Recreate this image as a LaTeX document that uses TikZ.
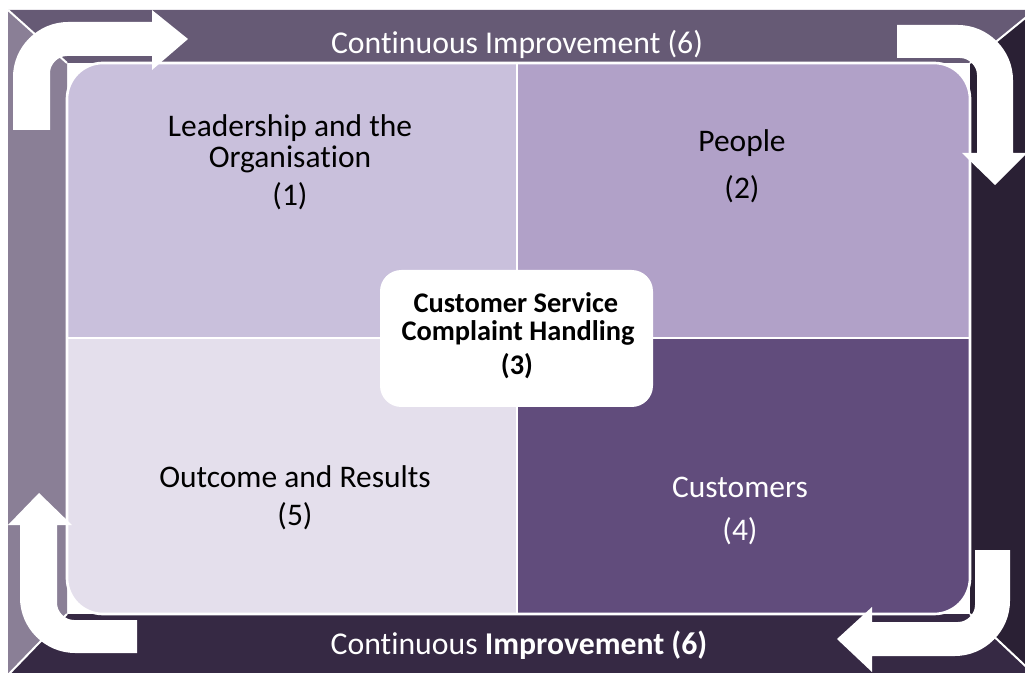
\documentclass[tikz,border=0pt]{standalone}
\usepackage{fontspec}
\setmainfont{Carlito}[Ligatures=NoCommon]
\usepackage{xcolor}
\definecolor{bandtop}{HTML}{665A75}
\definecolor{bandleft}{HTML}{8A7F96}
\definecolor{bandright}{HTML}{2A2034}
\definecolor{bandbottom}{HTML}{362944}
\definecolor{quadlead}{HTML}{C9C0DC}
\definecolor{quadpeople}{HTML}{B1A1C8}
\definecolor{quadresult}{HTML}{E4DFEC}
\definecolor{quadcust}{HTML}{614C7C}

\begin{document}
\begin{tikzpicture}[x=0.75pt,y=-0.75pt,line join=round,
    label/.style={anchor=base,font=\fontsize{23.6}{28}\selectfont},
    hubtext/.style={anchor=base,font=\fontsize{21.3}{25}\selectfont\bfseries},
    bandtext/.style={anchor=base,text=white,font=\fontsize{23.8}{28}\selectfont}]
  \useasboundingbox (0,0) rectangle (1025,673);
  \clip (0,0) rectangle (1025,673);
  % outer frame and inner panel corners
  \coordinate (P1) at (8,10);
  \coordinate (P2) at (1035,10);
  \coordinate (P3) at (1035,675);
  \coordinate (P4) at (8,675);
  \coordinate (Q1) at (67,63);
  \coordinate (Q2) at (970,63);
  \coordinate (Q3) at (970,614);
  \coordinate (Q4) at (67,614);
  \coordinate (M) at (517,338);
  \fill[bandtop] (P1)--(P2)--(Q2)--(Q1)--cycle;
  \fill[bandright] (P2)--(P3)--(Q3)--(Q2)--cycle;
  \fill[bandbottom] (P3)--(P4)--(Q4)--(Q3)--cycle;
  \fill[bandleft] (P4)--(P1)--(Q1)--(Q4)--cycle;
  \draw[white,line width=1.5pt] (P1)--(Q1) (P2)--(Q2) (P3)--(Q3) (P4)--(Q4);
  % four quadrants
  \begin{scope}
    \clip[rounded corners=27pt] (Q1) rectangle (Q3);
    \fill[quadlead] (Q1) rectangle (M);
    \fill[quadpeople] (Q2) rectangle (M);
    \fill[quadcust] (Q3) rectangle (M);
    \fill[quadresult] (Q4) rectangle (M);
  \end{scope}
  \draw[white,line width=2pt] (517,63)--(517,614) (67,338)--(970,338);
  \draw[white,line width=2pt,rounded corners=27pt] (Q1) rectangle (Q3);
  % bent arrows, clockwise
  \fill[white] (13,130)--(13,77) .. controls (13,47) and (38,22) .. (68,22)
    --(152,22)--(152,10)--(188,39)--(152,70)--(152,56)--(67,56)
    .. controls (58,56) and (50,64) .. (50,73)--(50,130)--cycle;
  \fill[white] (897,25)--(958,25) .. controls (988,25) and (1013,50) .. (1013,80)
    --(1013,153)--(1027,153)--(995,185)--(962,153)--(977,153)--(977,75)
    .. controls (977,66) and (969,58) .. (960,58)--(897,58)--cycle;
  \fill[white] (975,550)--(1010,550)--(1010,601) .. controls (1010,631) and (985,656) .. (955,656)
    --(872,656)--(872,672)--(837,639)--(872,607)--(872,622)--(958,622)
    .. controls (967,622) and (975,614) .. (975,605)--cycle;
  \fill[white] (137,620)--(137,653)--(75,653) .. controls (45,653) and (20,628) .. (20,598)
    --(20,525)--(8,525)--(39,493)--(72,525)--(57,525)--(57,603)
    .. controls (57,612) and (65,620) .. (74,620)--cycle;
  % centre box
  \fill[white,rounded corners=16pt] (380,270) rectangle (653,407);
  % texts
  \node[bandtext] (top) at (517,54) {Continuous Improvement (6)};
  \node[bandtext] (bottom) at (519,654) {Continuous \textbf{Improvement (6)}};
  \node[label] (lead1) at (290,137) {Leadership and the};
  \node[label] (lead2) at (290,168) {Organisation};
  \node[label] (lead3) at (290,206) {(1)};
  \node[label] (ppl1) at (742,152) {People};
  \node[label] (ppl2) at (742,199) {(2)};
  \node[label] (res1) at (295,488) {Outcome and Results};
  \node[label] (res2) at (295,526) {(5)};
  \node[label,text=white] (cust1) at (740,498) {Customers};
  \node[label,text=white] (cust2) at (740,541) {(4)};
  \node[hubtext] (hub1) at (516,313) {Customer Service};
  \node[hubtext] (hub2) at (518,341) {Complaint Handling};
  \node[hubtext] (hub3) at (517,375) {(3)};
\end{tikzpicture}
\end{document}
